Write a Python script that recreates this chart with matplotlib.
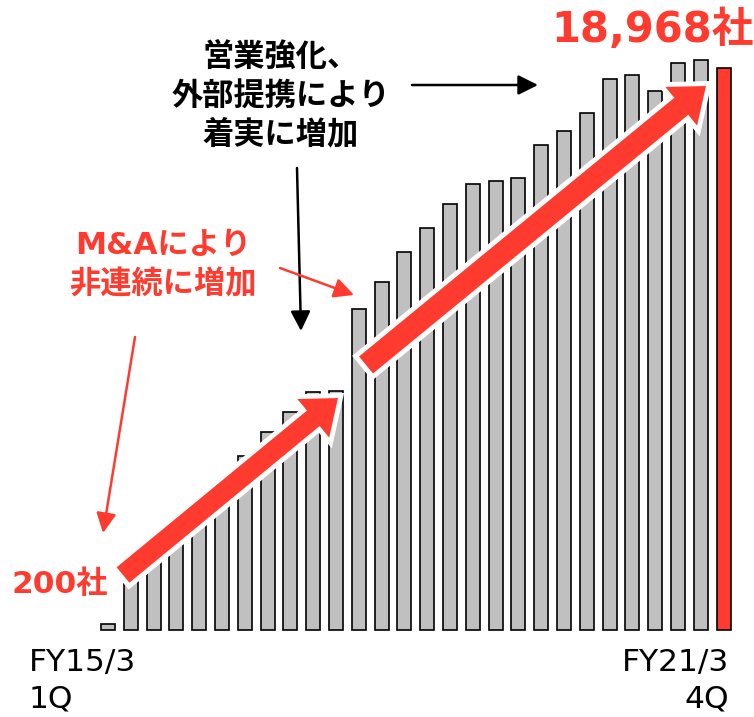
import matplotlib
matplotlib.use("Agg")
import matplotlib.pyplot as plt
import matplotlib.patches as mpatches
import matplotlib.patheffects as pe

# ---------------- data ----------------
quarters = list(range(28))  # FY15/3 1Q ... FY21/3 4Q
values = [200, 2300, 2950, 3600, 4250, 4900, 5870, 6680, 7360, 8030, 8050,
          10830, 11740, 12760, 13570, 14380, 15050, 15150, 15250, 16370,
          16840, 17450, 18600, 18730, 18190, 19140, 19240, 18968]
first_label = ["FY15/3", "1Q"]
last_label = ["FY21/3", "4Q"]
start_label = "200社"
end_label = "18,968社"
note_black = ["営業強化、", "外部提携により", "着実に増加"]
note_red = ["M&Aにより", "非連続に増加"]

RED = "#ff3b30"
GRAY = "#c0c0c0"
FAM = ["DejaVu Sans", "Noto Sans CJK JP"]

W, H = 754, 717
fig = plt.figure(figsize=(W / 100, H / 100), dpi=100)
fig.patch.set_facecolor("white")

# main bar axes (fills figure; limits chosen so bars sit where they should)
pitch = 22.8
x0 = 108.0
base = 630.0
per_px = 33.75
ax = fig.add_axes([0, 0, 1, 1])
ax.set_xlim(-x0 / pitch, (W - x0) / pitch)
ax.set_ylim(-(H - base) * per_px, base * per_px)
ax.axis("off")
colors = [GRAY] * (len(values) - 1) + [RED]
ax.bar(quarters, values, width=0.62, color=colors, edgecolor="black",
       linewidth=1.2, zorder=2)

# overlay axes in pixel coordinates for annotations
ov = fig.add_axes([0, 0, 1, 1], zorder=5)
ov.set_xlim(0, W)
ov.set_ylim(H, 0)
ov.axis("off")
ov.patch.set_alpha(0)

def big_arrow(x1, y1, x2, y2, w):
    a = mpatches.FancyArrow(x1, y1, x2 - x1, y2 - y1, width=w, head_width=50,
                            head_length=32, length_includes_head=True,
                            facecolor=RED, edgecolor="none", linewidth=0)
    a.set_path_effects([pe.Stroke(linewidth=7, foreground="white"), pe.Normal()])
    ov.add_patch(a)

big_arrow(123, 575, 338, 398, 20)
big_arrow(366, 365, 706, 86, 22)

def thin_arrow(x1, y1, x2, y2, color):
    ov.annotate("", xy=(x2, y2), xytext=(x1, y1),
                arrowprops=dict(arrowstyle="-|>,head_length=0.6,head_width=0.3",
                                color=color, lw=1.8, mutation_scale=20,
                                shrinkA=0, shrinkB=0))

thin_arrow(412, 85, 538, 85, "black")
thin_arrow(297, 168, 301, 331, "black")
thin_arrow(280, 268, 354, 295, RED)
thin_arrow(135, 337, 103, 533, RED)

# texts
ov.text(652, 30, end_label, color=RED, fontsize=30, fontweight="bold",
        family=FAM, ha="center", va="center")
ov.text(60, 584, start_label, color=RED, fontsize=22.5, fontweight="bold",
        family=FAM, ha="center", va="center")
for s, y in zip(note_black, [57, 97, 134]):
    ov.text(281, y, s, color="black", fontsize=22.5, fontweight="bold",
            family=FAM, ha="center", va="center")
for s, y in zip(note_red, [245, 284]):
    ov.text(163, y, s, color=RED, fontsize=22.5, fontweight="bold",
            family=FAM, ha="center", va="center")
for s, y in zip(first_label, [663, 699]):
    ov.text(29, y, s, color="black", fontsize=22.5, family=FAM,
            ha="left", va="center")
for s, y in zip(last_label, [663, 699]):
    ov.text(729, y, s, color="black", fontsize=22.5, family=FAM,
            ha="right", va="center")

fig.savefig("out.png", dpi=100, facecolor="white")
